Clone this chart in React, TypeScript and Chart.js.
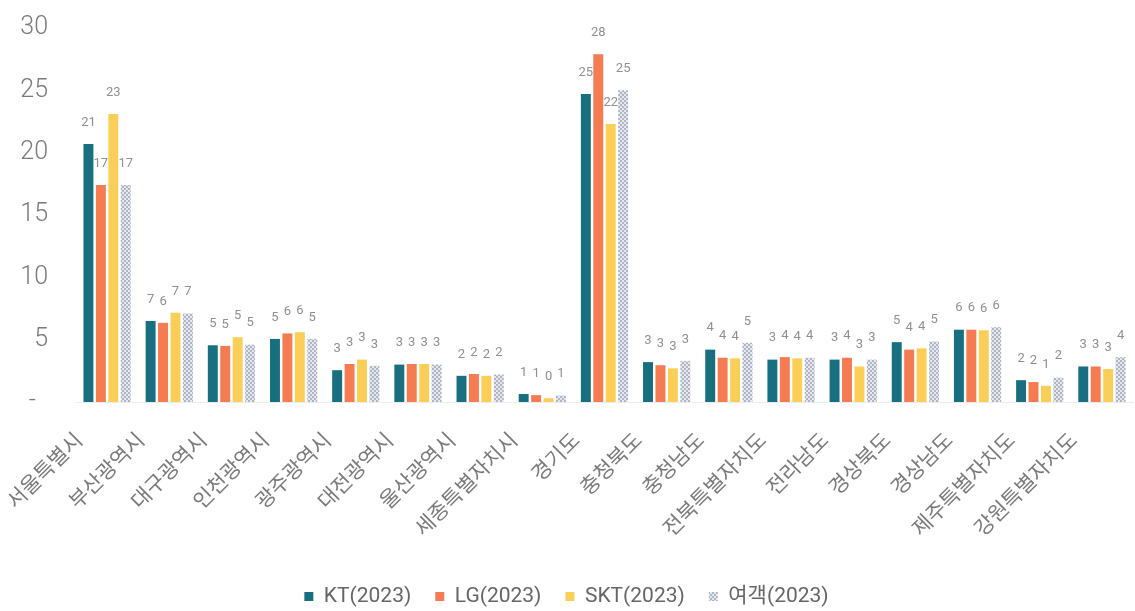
import React, { useEffect, useRef } from 'react';
import { Chart, registerables } from 'chart.js';

Chart.register(...registerables);

const categories = [
  '서울특별시', '부산광역시', '대구광역시', '인천광역시', '광주광역시', '대전광역시',
  '울산광역시', '세종특별자치시', '경기도', '충청북도', '충청남도', '전북특별자치도',
  '전라남도', '경상북도', '경상남도', '제주특별자치도', '강원특별자치도',
];
const seriesNames = ['KT(2023)', 'LG(2023)', 'SKT(2023)', '여객(2023)'];
const ktValues = [20.7, 6.5, 4.55, 5.06, 2.55, 3.0, 2.1, 0.64, 24.7, 3.2, 4.2, 3.4, 3.4, 4.8, 5.8, 1.75, 2.85];
const lgValues = [17.4, 6.35, 4.5, 5.5, 3.05, 3.05, 2.25, 0.55, 27.9, 2.95, 3.55, 3.6, 3.55, 4.2, 5.8, 1.6, 2.85];
const sktValues = [23.1, 7.15, 5.2, 5.6, 3.4, 3.05, 2.1, 0.3, 22.3, 2.7, 3.5, 3.5, 2.85, 4.3, 5.75, 1.3, 2.65];
const passengerValues = [17.4, 7.1, 4.6, 5.06, 2.9, 3.0, 2.2, 0.52, 25.0, 3.3, 4.75, 3.55, 3.4, 4.85, 6.0, 1.95, 3.6];
const yTicks = [0, 5, 10, 15, 20, 25, 30];

const FONT = "Roboto, 'Noto Sans CJK KR', sans-serif";

function makePattern(): CanvasPattern | string {
  const c = document.createElement('canvas');
  c.width = 4;
  c.height = 4;
  const ctx = c.getContext('2d');
  if (!ctx) return '#c5cad3';
  ctx.fillStyle = '#e6e8ed';
  ctx.fillRect(0, 0, 4, 4);
  ctx.fillStyle = '#aeb6c5';
  ctx.fillRect(0, 0, 2, 2);
  ctx.fillRect(2, 2, 2, 2);
  const p = ctx.createPattern(c, 'repeat');
  return p || '#c5cad3';
}

const valueLabels = {
  id: 'valueLabels',
  afterDatasetsDraw(chart: any) {
    const ctx = chart.ctx;
    ctx.save();
    ctx.font = `13px ${FONT}`;
    ctx.fillStyle = '#8f8f8f';
    ctx.textAlign = 'center';
    ctx.textBaseline = 'bottom';
    chart.data.datasets.forEach((ds: any, i: number) => {
      const meta = chart.getDatasetMeta(i);
      meta.data.forEach((el: any, j: number) => {
        const v = ds.data[j];
        ctx.fillText(String(Math.round(v)), el.x, el.y - 15);
      });
    });
    ctx.restore();
  },
};

export default function App() {
  const ref = useRef<HTMLCanvasElement>(null);
  useEffect(() => {
    if (!ref.current) return;
    const pattern = makePattern();
    const chart = new Chart(ref.current, {
      type: 'bar',
      data: {
        labels: categories,
        datasets: [
          { label: seriesNames[0], data: ktValues, backgroundColor: '#176f80' },
          { label: seriesNames[1], data: lgValues, backgroundColor: '#f47b52' },
          { label: seriesNames[2], data: sktValues, backgroundColor: '#fbcf57' },
          { label: seriesNames[3], data: passengerValues, backgroundColor: pattern as any },
        ],
      },
      options: {
        animation: false,
        responsive: false,
        maintainAspectRatio: false,
        layout: { padding: { top: 28, left: 0, right: 2, bottom: -6 } },
        datasets: { bar: { categoryPercentage: 0.8, barPercentage: 0.8 } },
        scales: {
          x: {
            grid: { display: false, drawTicks: false },
            border: { display: true, color: '#ececec', width: 1 },
            ticks: {
              maxRotation: 45,
              minRotation: 45,
              autoSkip: false,
              padding: 27,
              labelOffset: -27,
              color: '#7a7a7a',
              font: { family: FONT, size: 21 },
            },
            afterFit(scale: any) {
              scale.height = 160;
              scale.paddingLeft = 0;
              scale.paddingRight = 0;
            },
          },
          y: {
            min: 0,
            max: 30,
            afterBuildTicks(scale: any) {
              scale.ticks = yTicks.map((v) => ({ value: v }));
            },
            grid: { display: false, drawTicks: false },
            border: { display: false },
            ticks: {
              padding: 28,
              color: '#7a7a7a',
              font: { family: FONT, size: 25, weight: '300' as any },
              callback: (v: any) => (Number(v) === 0 ? '-  ' : String(v)),
            },
            afterFit(scale: any) {
              scale.width = 76;
              scale.paddingTop = 0;
              scale.paddingBottom = 0;
            },
          },
        },
        plugins: {
          legend: {
            position: 'bottom',
            labels: {
              boxWidth: 9,
              boxHeight: 9,
              padding: 24,
              color: '#666',
              font: { family: FONT, size: 21 },
            },
          },
          tooltip: { enabled: false },
        },
      },
      plugins: [valueLabels],
    });
    return () => chart.destroy();
  }, []);
  return (
    <div style={{ position: 'fixed', left: 0, top: 0, width: 1135, height: 611, background: '#fff' }}>
      <canvas ref={ref} width={1135} height={611} style={{ display: 'block' }} />
    </div>
  );
}
